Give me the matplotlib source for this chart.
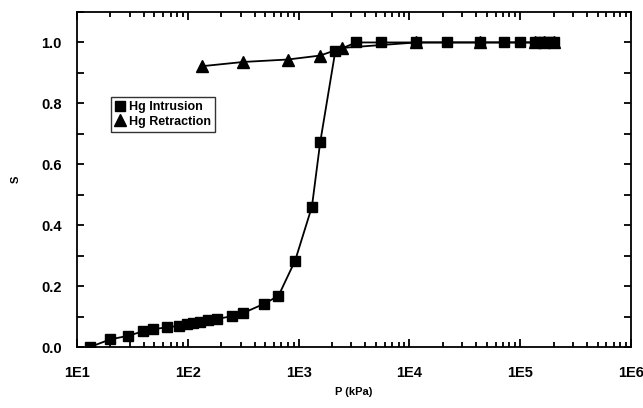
import matplotlib.pyplot as plt
import matplotlib.ticker as mticker
import numpy as np

plt.rcParams['font.family'] = ['Liberation Sans', 'DejaVu Sans']
plt.rcParams['font.weight'] = 'bold'

# intrusion curve (pressure in kPa, saturation)
p_intr = [13.1, 19.9, 29.1, 39.7, 48.9, 64.6, 84, 98, 112, 129, 153, 183, 249, 318,
          489, 658, 931, 1319, 1566, 2143, 3290, 5530, 11540, 21870, 43000, 70800,
          99000, 137000, 150000, 165000, 182000, 201000]
s_intr = [0.0, 0.025, 0.037, 0.052, 0.058, 0.065, 0.069, 0.074, 0.078, 0.082, 0.089,
          0.092, 0.101, 0.112, 0.142, 0.168, 0.284, 0.461, 0.672, 0.971, 1.0, 1.0,
          1.0, 1.0, 1.0, 1.0, 1.0, 1.0, 1.0, 1.0, 1.0, 1.0]

# retraction curve
p_retr = [134, 318, 800, 1566, 2460, 11540, 43000, 137000, 165000, 201000]
s_retr = [0.922, 0.936, 0.944, 0.957, 0.982, 1.0, 1.0, 1.0, 1.0, 1.0]

fig = plt.figure(figsize=(6.43, 4.08), dpi=100)
ax = fig.add_axes([0.1198, 0.1495, 0.8615, 0.8211])

ax.plot(p_intr, s_intr, color='black', lw=1.3, marker='s', ms=7.5, label='Hg Intrusion', zorder=3)
ax.plot(p_retr, s_retr, color='black', lw=1.3, marker='^', ms=8, label='Hg Retraction', zorder=2)

ax.set_xscale('log')
ax.set_xlim(10, 1e6)
ax.set_ylim(0, 1.1)

ax.xaxis.set_major_locator(mticker.LogLocator(base=10, numticks=10))
ax.xaxis.set_minor_locator(mticker.LogLocator(base=10, subs=np.arange(2, 10), numticks=20))
ax.xaxis.set_major_formatter(mticker.FuncFormatter(lambda v, pos: f'1E{int(round(np.log10(v)))}'))
ax.xaxis.set_minor_formatter(mticker.NullFormatter())

ax.yaxis.set_major_locator(mticker.MultipleLocator(0.2))
ax.yaxis.set_minor_locator(mticker.MultipleLocator(0.1))
ax.yaxis.set_major_formatter(mticker.FormatStrFormatter('%.1f'))

ax.tick_params(which='both', direction='in', top=True, right=True, width=1.3,
               labelsize=10.5)
ax.tick_params(axis='x', which='major', length=6, pad=14)
ax.tick_params(axis='x', which='minor', length=3.5)
ax.tick_params(axis='y', which='both', length=5, pad=11)
for lab in ax.get_xticklabels() + ax.get_yticklabels():
    lab.set_fontweight('bold')

for sp in ax.spines.values():
    sp.set_linewidth(1.3)

ax.set_xlabel('P (kPa)', fontsize=8, fontweight='bold', labelpad=5)
ax.set_ylabel('S', fontsize=8, fontweight='bold', labelpad=15)

leg = ax.legend(loc='upper left', bbox_to_anchor=(0.05, 0.765), fontsize=9,
                frameon=True, fancybox=False, edgecolor='black', handlelength=0.7,
                handletextpad=0.4, borderpad=0.35, labelspacing=0.2, markerscale=1.0)
leg.get_frame().set_linewidth(1.0)
for t in leg.get_texts():
    t.set_fontweight('bold')
for h in leg.get_lines():
    h.set_linestyle('none')

fig.savefig('out.png', dpi=100)
